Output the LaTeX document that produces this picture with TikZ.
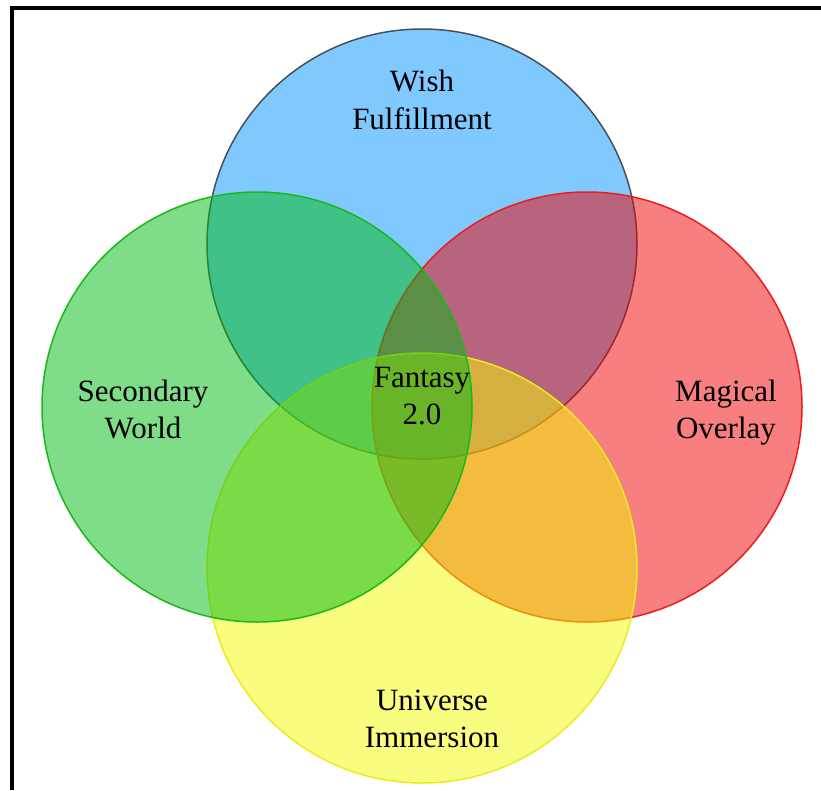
\documentclass[tikz,border=0pt]{standalone}
\usepackage{fontspec}
\setmainfont{Liberation Serif}
\definecolor{cblue}{RGB}{0,149,255}
\definecolor{cblueline}{RGB}{70,80,90}
\definecolor{cred}{RGB}{242,0,0}
\definecolor{credline}{RGB}{235,30,30}
\definecolor{cyellow}{RGB}{242,250,0}
\definecolor{cyellowline}{RGB}{235,235,30}
\definecolor{cgreen}{RGB}{0,186,18}
\definecolor{cgreenline}{RGB}{25,185,25}
\begin{document}
\begin{tikzpicture}[x=1pt,y=-1pt,
  venn/.style={circle,minimum size=430pt,inner sep=0pt,fill opacity=0.5,line width=1.5pt},
  lbl/.style={align=center,font=\fontsize{31}{37.5}\selectfont,anchor=base,inner sep=0pt}]
\useasboundingbox (0,0) rectangle (821,790);
\fill[white] (0,0) rectangle (821,790);
\node[venn,fill=cblue,draw=cblueline] (wish) at (422,244) {};
\node[venn,fill=cred,draw=credline] (magic) at (587,407) {};
\node[venn,fill=cyellow,draw=cyellowline] (univ) at (422,568) {};
\node[venn,fill=cgreen,draw=cgreenline] (second) at (257,407) {};
\node[lbl] (twish) at (422,129) {Wish\\Fulfillment};
\node[lbl] (tsec) at (143,438.5) {Secondary\\World};
\node[lbl] (tmag) at (726,438.5) {Magical\\Overlay};
\node[lbl] (tfan) at (422,424.5) {Fantasy\\2.0};
\node[lbl] (tuni) at (432,747.5) {Universe\\Immersion};
\draw[line width=3.5pt] (12,790) -- (12,7.75) -- (821,7.75);
\end{tikzpicture}
\end{document}
